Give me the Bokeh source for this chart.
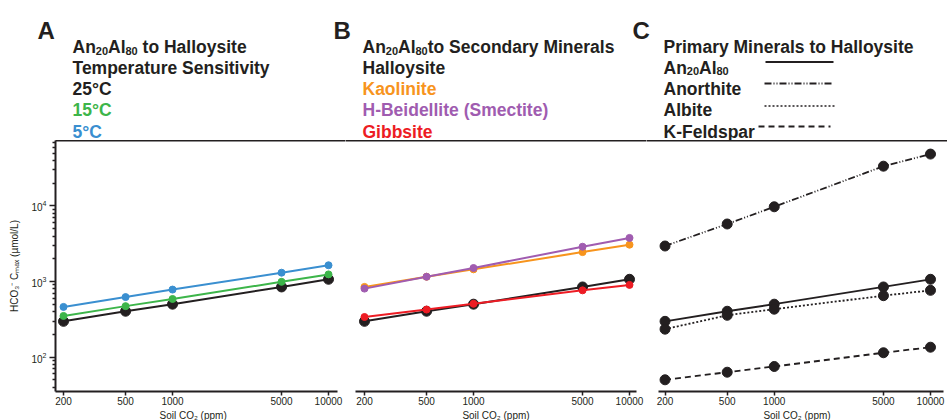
from bokeh.plotting import figure
from bokeh.layouts import column, row
from bokeh.models import LogAxis, FixedTicker, NumeralTickFormatter, Range1d, Title
from bokeh.core.properties import value
from bokeh.embed import file_html
from bokeh.resources import INLINE

# Soil CO2 levels (ppm) shared by every series
co2_ppm = [200, 500, 1000, 5000, 10000]

# Panel A: An20Al80 -> halloysite, HCO3- Cmax (umol/L) at three temperatures
halloysite_25c = [297, 404, 501, 847, 1070]
halloysite_15c = [350, 472, 587, 990, 1242]
halloysite_5c = [461, 622, 782, 1308, 1640]

# Panel B: An20Al80 -> other secondary minerals (25 C)
kaolinite = [848, 1156, 1449, 2449, 3070]
h_beidellite = [805, 1156, 1509, 2884, 3775]
gibbsite = [339, 425, 507, 764, 902]

# Panel C: primary minerals -> halloysite (25 C)
anorthite = [2950, 5770, 9750, 33600, 48600]
albite = [234, 357, 430, 649, 764]
k_feldspar = [50, 63, 75, 114, 135]

FONT = "Liberation Sans"
INK = "#231f20"
GREEN = "#3db54a"
BLUE = "#3a8fd0"
ORANGE = "#f7941d"
PURPLE = "#a05cb0"
RED = "#ed1c24"

Y_LO, Y_HI = 35, 73500


def make_panel(width, left_border, x_range, axis_bounds, label_align, label_offset, y_axis=False):
    p = figure(width=width, height=280, x_axis_type="log", y_axis_type="log",
               x_range=Range1d(*x_range), y_range=Range1d(Y_LO, Y_HI),
               x_axis_location=None, y_axis_location=None,
               output_backend="svg", toolbar_location=None,
               min_border_left=left_border, min_border_right=0,
               min_border_top=0, min_border_bottom=0)
    p.grid.visible = False
    p.outline_line_color = None

    # bottom axis, trimmed so that neighbouring panels are separated by a gap
    xa = LogAxis(ticker=FixedTicker(ticks=co2_ppm, minor_ticks=[]),
                 formatter=NumeralTickFormatter(format="0"),
                 bounds=axis_bounds)
    xa.axis_line_width = 2
    xa.axis_line_color = INK
    xa.major_tick_in = 0
    xa.major_tick_out = 4
    xa.major_tick_line_width = 1.5
    xa.major_tick_line_color = INK
    xa.major_label_text_font = FONT
    xa.major_label_text_font_size = "10px"
    xa.major_label_text_color = INK
    xa.major_label_standoff = 1
    p.add_layout(xa, "below")

    p.add_layout(Title(text="Soil CO₂ (ppm)", align=label_align, offset=label_offset,
                       standoff=0, text_font=FONT, text_font_size="10px",
                       text_font_style="normal", text_color=INK), "below")

    # continuous rule along the top of all panels
    ta = LogAxis(ticker=FixedTicker(ticks=[], minor_ticks=[]))
    ta.axis_line_width = 2
    ta.axis_line_color = INK
    ta.major_tick_line_color = None
    ta.minor_tick_line_color = None
    ta.major_label_text_font_size = "0px"
    ta.major_label_standoff = 0
    p.add_layout(ta, "above")

    if y_axis:
        minor = [m * 10 ** e for e in (1, 2, 3, 4) for m in range(2, 10)
                 if Y_LO <= m * 10 ** e <= Y_HI]
        ya = LogAxis(ticker=FixedTicker(ticks=[100, 1000, 10000], minor_ticks=minor),
                     axis_label="HCO₃⁻ Cₘₐₓ (µmol/L)")
        ya.axis_line_width = 2
        ya.axis_line_color = INK
        ya.major_tick_in = 0
        ya.major_tick_out = 6
        ya.minor_tick_in = 0
        ya.minor_tick_out = 3
        ya.major_tick_line_width = 1.5
        ya.minor_tick_line_width = 1.5
        ya.major_tick_line_color = INK
        ya.minor_tick_line_color = INK
        ya.major_label_text_font = FONT
        ya.major_label_text_font_size = "10px"
        ya.major_label_text_color = INK
        ya.major_label_standoff = 3
        ya.axis_label_text_font = FONT
        ya.axis_label_text_font_size = "10px"
        ya.axis_label_text_font_style = "normal"
        ya.axis_label_text_color = INK
        ya.axis_label_standoff = 8
        p.add_layout(ya, "left")
    return p


def series(p, y, color, size, dash="solid", width=2):
    p.line(co2_ppm, y, line_color=color, line_width=width, line_dash=dash)
    p.scatter(co2_ppm, y, size=size, fill_color=color, line_color=color)


# Panel A
pa = make_panel(345, 55, (177.7, 12850), (177.7, 11370), "left", 104, y_axis=True)
series(pa, halloysite_25c, INK, 10)
series(pa, halloysite_15c, GREEN, 7)
series(pa, halloysite_5c, BLUE, 7)

# Panel B
pb = make_panel(301, 0, (151.1, 12850), (176.4, 11090), "center", 0)
series(pb, halloysite_25c, INK, 10)
series(pb, kaolinite, ORANGE, 7)
series(pb, h_beidellite, PURPLE, 7)
series(pb, gibbsite, RED, 7)

# Panel C
DASHDOT2 = "7 2 1 2 1 2"
DOTTED = "2 2"
DASHED = "6 4"
pc = make_panel(301, 0, (152.2, 12850), (180.4, 12117), "center", 0)
series(pc, halloysite_25c, INK, 10, width=1.8)
series(pc, anorthite, INK, 10, DASHDOT2, width=1.8)
series(pc, albite, INK, 10, DOTTED, width=1.8)
series(pc, k_feldspar, INK, 10, DASHED, width=1.8)

# Header strip with panel letters and colour keys
hd = figure(width=947, height=140, x_range=Range1d(0, 947), y_range=Range1d(140, 0),
            x_axis_location=None, y_axis_location=None,
            output_backend="svg", toolbar_location=None, min_border=0)
hd.grid.visible = False
hd.outline_line_color = None

HEAD_SIZE = "17.5px"
SUB_SIZE = "11px"


def head(x, y, text, color=INK, size=HEAD_SIZE):
    hd.text(x=[x], y=[y], text=[text], text_color=color,
            text_font=value(FONT), text_font_size=size, text_font_style="bold",
            text_baseline="alphabetic")


def an20al80(x, y, tail="", gap=0.0):
    # "An20Al80" written with true subscripts, then the rest of the line
    head(x, y, "An")
    head(x + 23.3, y + 3.5, "20", size=SUB_SIZE)
    head(x + 35.5, y, "Al")
    head(x + 53.0, y + 3.5, "80", size=SUB_SIZE)
    if tail:
        head(x + 65.2 + gap, y, tail)


hd.text(x=[37, 333, 632], y=[30, 30, 30], text=["A", "B", "C"],
        text_font=value(FONT), text_font_size="24px", text_font_style="bold",
        text_color=INK, text_baseline="alphabetic")

rows_y = [46.5, 67, 88, 109.5, 131]

# panel A key
an20al80(72, rows_y[0], "to Halloysite", gap=4.9)
head(72, rows_y[1], "Temperature Sensitivity")
head(72, rows_y[2], "25°C", INK)
head(72, rows_y[3], "15°C", GREEN)
head(72, rows_y[4], "5°C", BLUE)

# panel B key
an20al80(362, rows_y[0], "to Secondary Minerals")
head(362, rows_y[1], "Halloysite", INK)
head(362, rows_y[2], "Kaolinite", ORANGE)
head(362, rows_y[3], "H-Beidellite (Smectite)", PURPLE)
head(362, rows_y[4], "Gibbsite", RED)

# panel C key
head(663, rows_y[0], "Primary Minerals to Halloysite")
an20al80(663, rows_y[1])
head(663, rows_y[2], "Anorthite")
head(663, rows_y[3], "Albite")
head(663, rows_y[4], "K-Feldspar")

# line-style key for panel C
hd.line([765, 833], [61.5, 61.5], line_color=INK, line_width=1.8)
hd.line([764, 833], [83, 83], line_color=INK, line_width=1.8, line_dash=DASHDOT2)
hd.line([764, 834], [105.5, 105.5], line_color=INK, line_width=1.6, line_dash=DOTTED)
hd.line([758, 830], [126, 126], line_color=INK, line_width=1.8, line_dash=DASHED)

layout = column(hd, row(pa, pb, pc, spacing=0), spacing=0)

open("out.html", "w").write(file_html(layout, INLINE))
